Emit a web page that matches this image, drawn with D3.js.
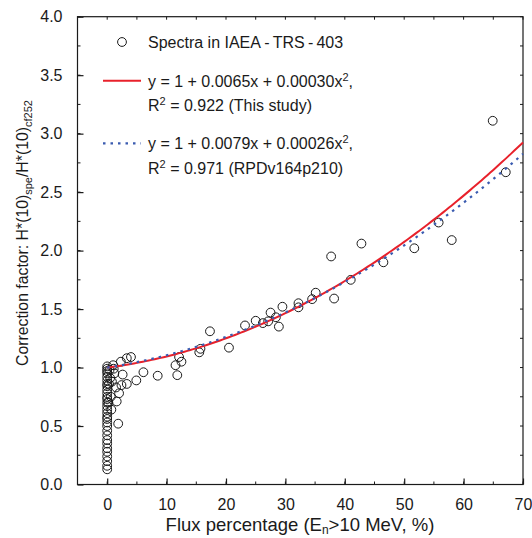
<!DOCTYPE html>
<html><head><meta charset="utf-8">
<script src="https://cdn.jsdelivr.net/npm/d3@7"></script>
<style>
body{margin:0;background:#fff;}
svg text{font-family:"Liberation Sans",Arial,sans-serif;fill:#1a1a1a;}
</style></head>
<body><svg id="c" width="532" height="538"></svg>
<script>
// Data: flux percentage (En>10 MeV, %) vs correction factor
const fluxX = [
  0,0,0,0,0,0,0,0,0,0,0,0,0,0,0,0,0,0,0,0,0,0,0,0,0,0,0,0,0,0,
  0.3,0.5,0.2,0.4,
  1.1,1.2,2.3,4.0,3.3,2.6,2.4,3.3,4.9,6.1,8.5,2.0,1.6,0.7,1.85,0.8,1.5,0.6,1.0,
  11.8,11.5,12.1,12.5,15.5,15.7,17.3,20.5,23.2,25.0,26.2,27.1,27.5,28.4,28.9,29.5,
  32.2,32.2,34.5,35.1,37.7,38.2,41.0,42.8,46.5,51.7,55.8,58.0,64.9,67.1
];
const corrY = [
  0.13,0.16,0.20,0.24,0.28,0.31,0.35,0.38,0.42,0.46,0.50,0.53,0.56,0.58,0.61,0.64,0.67,0.70,0.73,0.75,0.78,0.81,0.84,0.86,0.89,0.92,0.95,0.97,0.99,1.01,
  0.86,0.91,0.70,0.98,
  0.99,0.95,1.05,1.09,1.08,0.94,0.85,0.86,0.89,0.96,0.93,0.78,0.71,0.64,0.52,0.88,0.83,0.75,1.02,
  0.935,1.02,1.09,1.05,1.13,1.16,1.31,1.17,1.36,1.40,1.38,1.395,1.47,1.43,1.35,1.52,
  1.55,1.515,1.585,1.64,1.95,1.59,1.75,2.06,1.90,2.02,2.24,2.09,3.11,2.67
];
// Fit coefficients y = a + b x + c x^2
const fitThisStudy = [1, 0.0065, 0.00030];
const fitRPD = [1, 0.0079, 0.00026];
const xTicks = [0,10,20,30,40,50,60,70];
const yTicks = [0.0,0.5,1.0,1.5,2.0,2.5,3.0,3.5,4.0];

const svg = d3.select("#c");
const L=77.5, R=523, T=16.7, B=484.5;
const x = d3.scaleLinear().domain([-5,70]).range([L,R]);
const y = d3.scaleLinear().domain([0,4]).range([B,T]);
const ink="#1a1a1a";

// frame
svg.append("rect").attr("x",L).attr("y",T).attr("width",R-L).attr("height",B-T)
  .attr("fill","none").attr("stroke",ink).attr("stroke-width",1.2);

const xMinor = d3.range(-5,70.01,5);
const yMinor = d3.range(0,4.01,0.25);

// bottom axis
const gx = svg.append("g").attr("transform",`translate(0,${B})`)
  .call(d3.axisBottom(x).tickValues(xTicks).tickFormat(d3.format("d")).tickSizeInner(-6).tickSizeOuter(0).tickPadding(14));
gx.select(".domain").remove();
gx.selectAll("text").attr("font-size",16).attr("fill",ink).attr("font-family","Liberation Sans, Arial, sans-serif");
gx.selectAll("line").attr("stroke",ink).attr("stroke-width",1.2);
svg.append("g").selectAll("line").data(xMinor).join("line")
  .attr("x1",d=>x(d)).attr("x2",d=>x(d)).attr("y1",B).attr("y2",B-3).attr("stroke",ink);
// top ticks
svg.append("g").selectAll("line").data(xMinor).join("line")
  .attr("x1",d=>x(d)).attr("x2",d=>x(d)).attr("y1",T).attr("y2",T+3).attr("stroke",ink);

// left axis
const gy = svg.append("g").attr("transform",`translate(${L},0)`)
  .call(d3.axisLeft(y).tickValues(yTicks).tickFormat(d3.format(".1f")).tickSizeInner(-6).tickSizeOuter(0).tickPadding(15));
gy.select(".domain").remove();
gy.selectAll("text").attr("font-size",16).attr("fill",ink).attr("font-family","Liberation Sans, Arial, sans-serif");
gy.selectAll("line").attr("stroke",ink).attr("stroke-width",1.2);
svg.append("g").selectAll("line").data(yMinor).join("line")
  .attr("y1",d=>y(d)).attr("y2",d=>y(d)).attr("x1",L).attr("x2",L+3).attr("stroke",ink);
// right ticks
svg.append("g").selectAll("line").data(yMinor).join("line")
  .attr("y1",d=>y(d)).attr("y2",d=>y(d)).attr("x1",R).attr("x2",R-3).attr("stroke",ink);

// points
const pts = fluxX.map((v,i)=>({x:v,y:corrY[i]}));
svg.append("g").selectAll("circle").data(pts).join("circle")
  .attr("cx",d=>x(d.x)).attr("cy",d=>y(d.y)).attr("r",4.4)
  .attr("fill","none").attr("stroke",ink).attr("stroke-width",1);

// fit curves
const xs = d3.range(0,70.001,0.5);
const fit = c => xs.map(v=>[v, c[0]+c[1]*v+c[2]*v*v]);
const line = d3.line().x(d=>x(d[0])).y(d=>y(d[1]));
svg.append("path").attr("d",line(fit(fitThisStudy))).attr("fill","none").attr("stroke","#e8212b").attr("stroke-width",2);
svg.append("path").attr("d",line(fit(fitRPD))).attr("fill","none").attr("stroke","#3a5bb0").attr("stroke-width",2.2).attr("stroke-dasharray","2.5,5");

// legend
const lg = svg.append("g").attr("font-size",16);
lg.append("circle").attr("cx",122).attr("cy",42).attr("r",4.4).attr("fill","none").attr("stroke",ink);
lg.append("text").attr("x",148).attr("y",47.5).text("Spectra in IAEA\u2009-\u2009TRS\u2009-\u2009403");
lg.append("line").attr("x1",103).attr("x2",141).attr("y1",80.7).attr("y2",80.7).attr("stroke","#e8212b").attr("stroke-width",2);
function eqText(yb, b, c){
  const t = lg.append("text").attr("x",148).attr("y",yb);
  t.append("tspan").text(`y = 1 + ${b}x + ${c}x`);
  t.append("tspan").attr("dy",-6).attr("font-size",11).text("2");
  t.append("tspan").attr("dy",6).text(",");
}
function r2Text(yb, r, label){
  const t = lg.append("text").attr("x",148).attr("y",yb);
  t.append("tspan").text("R");
  t.append("tspan").attr("dy",-6).attr("font-size",11).text("2");
  t.append("tspan").attr("dy",6).text(` = ${r} (${label})`);
}
eqText(87, "0.0065", "0.00030");
r2Text(111, "0.922", "This study");
lg.append("line").attr("x1",103).attr("x2",141).attr("y1",143.3).attr("y2",143.3).attr("stroke","#3a5bb0").attr("stroke-width",2.2).attr("stroke-dasharray","2.5,5");
eqText(149, "0.0079", "0.00026");
r2Text(174, "0.971", "RPDv164p210");

// axis titles
const xt = svg.append("text").attr("x",300).attr("y",531).attr("text-anchor","middle").attr("font-size",18.5);
xt.append("tspan").text("Flux percentage (E");
xt.append("tspan").attr("dy",3).attr("font-size",12).text("n");
xt.append("tspan").attr("dy",-3).text(">10 MeV, %)");

const yt = svg.append("text").attr("transform","translate(28,233) rotate(-90)").attr("text-anchor","middle").attr("font-size",15.8);
yt.append("tspan").text("Correction factor: H*(10)");
yt.append("tspan").attr("dy",4).attr("font-size",11).text("spe");
yt.append("tspan").attr("dy",-4).text("/H*(10)");
yt.append("tspan").attr("dy",4).attr("font-size",11).text("cf252");
</script></body></html>
